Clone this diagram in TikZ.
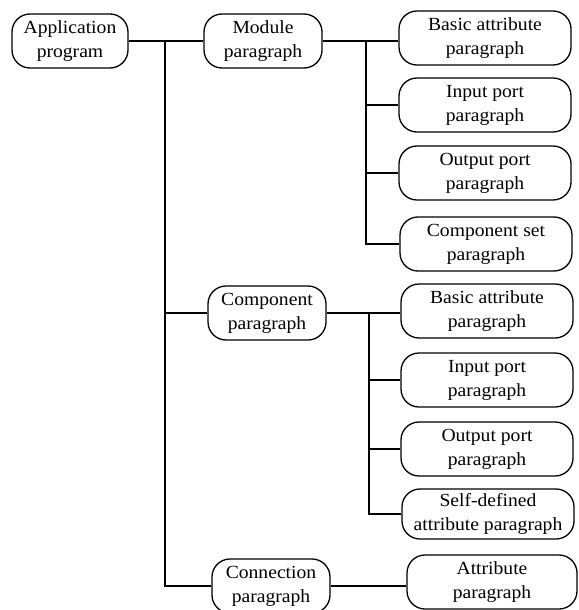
\documentclass[tikz,border=0pt]{standalone}
\usepackage{fontspec}
\setmainfont{Liberation Serif}[FakeStretch=1.06]
\begin{document}
\begin{tikzpicture}[x=1pt,y=-1pt,
  box/.style={draw,line width=1.3pt,rounded corners=18pt,align=center,
    font=\fontsize{18.5}{24}\selectfont,inner sep=0pt,minimum height=54pt},
  lbox/.style={box,minimum width=118pt},
  rbox/.style={box,minimum width=172pt},
  conn/.style={line width=1.4pt}]
\useasboundingbox (0,0) rectangle (578,610);
\fill[white] (0,0) rectangle (578,610);
% left and middle column
\node[lbox,minimum width=116pt] (app) at (70,41) {Application\\program};
\node[lbox] (mod) at (263,41) {Module\\paragraph};
\node[lbox] (comp) at (267,313) {Component\\paragraph};
\node[lbox] (con) at (271,586) {Connection\\paragraph};
% right column (module)
\node[rbox] (mba) at (485,38) {Basic attribute\\paragraph};
\node[rbox] (mip) at (485,105) {Input port\\paragraph};
\node[rbox] (mop) at (485,173) {Output port\\paragraph};
\node[rbox] (mcs) at (486,244) {Component set\\paragraph};
% right column (component)
\node[rbox] (cba) at (487,311) {Basic attribute\\paragraph};
\node[rbox] (cip) at (487,380) {Input port\\paragraph};
\node[rbox] (cop) at (487,449) {Output port\\paragraph};
\node[rbox,minimum height=50pt] (csd) at (488,514) {Self-defined\\attribute paragraph};
% connection
\node[rbox,minimum width=170pt] (att) at (492,582) {Attribute\\paragraph};
% junctions
\coordinate (tr) at (165,41);
\coordinate (mj) at (366,41);
\coordinate (cj) at (369,313);
% trunk
\draw[conn] (app.east) -- (mod.west);
\draw[conn] (tr) |- (con.west);
\draw[conn] (tr |- comp.west) -- (comp.west);
% module branch
\draw[conn] (mod.east) -- (mod.east -| mba.west);
\draw[conn] (mj) |- (mcs.west);
\draw[conn] (mj |- mip.west) -- (mip.west);
\draw[conn] (mj |- mop.west) -- (mop.west);
% component branch
\draw[conn] (comp.east) -- (comp.east -| cba.west);
\draw[conn] (cj) |- (csd.west);
\draw[conn] (cj |- cip.west) -- (cip.west);
\draw[conn] (cj |- cop.west) -- (cop.west);
% connection branch
\draw[conn] (con.east) -- (con.east -| att.west);
\end{tikzpicture}
\end{document}
